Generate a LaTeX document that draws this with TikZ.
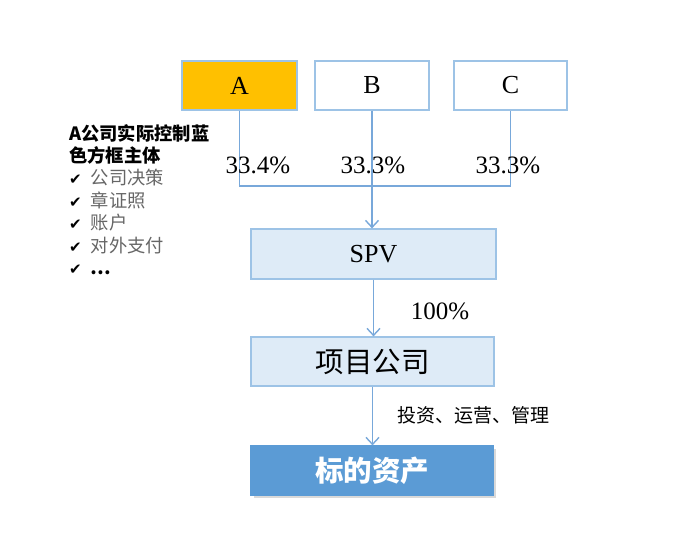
\documentclass[tikz,border=0pt]{standalone}
\usepackage{fontspec}
\setmainfont{Liberation Serif}
\newfontfamily\cjk{Noto Sans CJK SC}
\newfontfamily\symb{DejaVu Sans}
\usetikzlibrary{shadows,arrows.meta}
\definecolor{boxline}{RGB}{157,195,230}
\definecolor{linkline}{RGB}{120,168,218}
\definecolor{orangefill}{RGB}{255,192,0}
\definecolor{lightfill}{RGB}{222,235,247}
\definecolor{darkfill}{RGB}{91,155,213}
\newcommand{\tick}{{\symb\fontsize{15}{16}\selectfont ✔}\hspace{9pt}}
\begin{document}
\begin{tikzpicture}[x=1pt,y=-1pt]
\useasboundingbox (0,0) rectangle (700,544);
\begin{scope}[every node/.style={rectangle,draw=boxline,line width=1.2pt,inner sep=0pt}]
    \node[fill=orangefill,minimum width=115pt,minimum height=49pt,font=\fontsize{26}{30}\selectfont] (A) at (239.5,85.5) {A};
    \node[fill=white,minimum width=114pt,minimum height=49pt,font=\fontsize{26}{30}\selectfont] (B) at (372,85.5) {B};
    \node[fill=white,minimum width=113pt,minimum height=49pt,font=\fontsize{26}{30}\selectfont] (C) at (510.5,85.5) {C};
    \node[fill=lightfill,minimum width=245pt,minimum height=50pt,font=\fontsize{26}{30}\selectfont] (SPV) at (373.5,254) {SPV};
    \node[fill=lightfill,minimum width=243pt,minimum height=49pt,font=\cjk\fontsize{28.5}{32}\selectfont] (proj) at (372.5,361.5) {项目公司};
    \node[fill=darkfill,draw=darkfill,text=white,minimum width=242pt,minimum height=49pt,
          drop shadow={shadow xshift=3pt,shadow yshift=-3pt,opacity=0.3},
          font=\cjk\bfseries\fontsize{28.5}{32}\selectfont] (asset) at (372,470.5) {标的资产};
\end{scope}

\coordinate (jA) at (A.south |- 0,186);
\coordinate (jC) at (C.south |- 0,186);

\begin{scope}[>={Straight Barb[length=7pt,width=13pt]},line width=1.4pt,draw=linkline]
    \draw (A.south) -- (jA) -- (jC) -- (C.south);
    \draw[->] (B.south) -- (B.south |- SPV.north);
    \draw[->] (SPV.south) -- (SPV.south |- proj.north);
    \draw[->] (proj.south) -- (proj.south |- asset.north);
\end{scope}

\begin{scope}[every node/.style={inner sep=0pt,font=\fontsize{25}{29}\selectfont}]
    \node (pA) at (258,165) {33.4\%};
    \node (pB) at (373,165) {33.3\%};
    \node (pC) at (508,165) {33.3\%};
    \node (pSPV) at (440,311) {100\%};
    \node[font=\cjk\fontsize{19}{23}\selectfont] (pproj) at (473,415) {投资、运营、管理};
\end{scope}

\node[anchor=north west,inner sep=0pt,align=left,font=\cjk\fontsize{18.3}{22.4}\selectfont] (note) at (69,124)
    {{\bfseries A公司实际控制蓝}\\
     {\bfseries 色方框主体}\\
     \tick\textcolor{black!60}{公司决策}\\
     \tick\textcolor{black!60}{章证照}\\
     \tick\textcolor{black!60}{账户}\\
     \tick\textcolor{black!60}{对外支付}\\
     \tick{\bfseries …}};
\end{tikzpicture}
\end{document}
